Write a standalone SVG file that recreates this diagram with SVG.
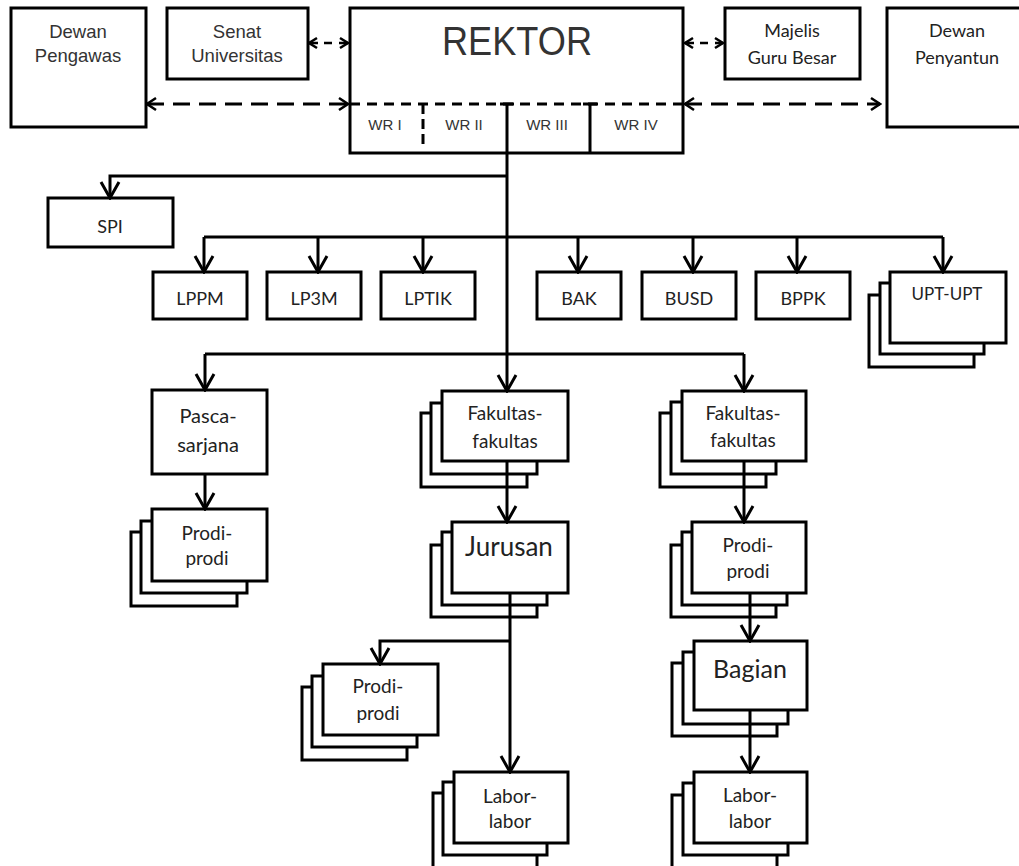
<svg xmlns="http://www.w3.org/2000/svg" width="1019" height="866" viewBox="0 0 1019 866">
<style>
.box{fill:#fff;stroke:#000;stroke-width:3}
.ln{fill:none;stroke:#000;stroke-width:3}
.dl{fill:none;stroke:#000;stroke-width:3;stroke-dasharray:17 9}
.a{font-family:"Liberation Sans",Arial,sans-serif;fill:#333;text-anchor:middle}
.c{font-family:Lato,"Open Sans",sans-serif;fill:#222;text-anchor:middle}
</style>
<defs>
<marker id="ah" viewBox="-2 -11 20 22" refX="16" refY="0" markerWidth="20" markerHeight="22" markerUnits="userSpaceOnUse" orient="auto"><path d="M0,-9 L16,0 L0,9" fill="none" stroke="#000" stroke-width="3"/></marker>
<marker id="as" viewBox="-2 -7 12 14" refX="8" refY="0" markerWidth="12" markerHeight="14" markerUnits="userSpaceOnUse" orient="auto-start-reverse"><path d="M0,-5 L8,0 L0,5" fill="none" stroke="#000" stroke-width="2.5"/></marker>
<marker id="am" viewBox="-2 -8 13 16" refX="9" refY="0" markerWidth="13" markerHeight="16" markerUnits="userSpaceOnUse" orient="auto-start-reverse"><path d="M0,-6 L9,0 L0,6" fill="none" stroke="#000" stroke-width="2.5"/></marker>
</defs>
<rect width="1019" height="866" fill="#fff"/>

<g id="dewan-pengawas"><rect class="box" x="11" y="8" width="135" height="119"/><text class="a" x="78" y="38" font-size="18.5">Dewan</text><text class="a" x="78" y="62" font-size="18.5">Pengawas</text></g>
<g id="senat"><rect class="box" x="167" y="8" width="141" height="71"/><text class="a" x="237" y="38" font-size="18.5">Senat</text><text class="a" x="237" y="62" font-size="18.5">Universitas</text></g>
<g id="rektor"><rect class="box" x="350" y="8" width="333" height="145"/>
<text class="a" x="517" y="55" font-size="40" textLength="150" lengthAdjust="spacingAndGlyphs">REKTOR</text>
<path d="M350,104 H683" fill="none" stroke="#000" stroke-width="3" stroke-dasharray="10 7"/>
<path d="M423,104 V146" fill="none" stroke="#000" stroke-width="3" stroke-dasharray="10 5"/>
<path class="ln" d="M507,104 V153 M590,104 V153 M500,104 H514 M583,104 H597"/>
<text class="a" x="385" y="130" font-size="15">WR I</text>
<text class="a" x="464" y="130" font-size="15">WR II</text>
<text class="a" x="547" y="130" font-size="15">WR III</text>
<text class="a" x="636" y="130" font-size="15">WR IV</text></g>
<g id="majelis"><rect class="box" x="725" y="8" width="135" height="71"/><text class="c" x="792" y="37" font-size="18">Majelis</text><text class="c" x="792" y="64" font-size="18">Guru Besar</text></g>
<g id="dewan-penyantun"><rect class="box" x="887" y="8" width="145" height="119"/><text class="c" x="957" y="37" font-size="18">Dewan</text><text class="c" x="957" y="64" font-size="18">Penyantun</text></g>

<g id="spi"><rect class="box" x="48" y="198" width="125" height="49"/><text class="c" x="110" y="233" font-size="18">SPI</text></g>
<g id="lppm"><rect class="box" x="153" y="272" width="94" height="47"/><text class="c" x="200" y="305" font-size="18">LPPM</text></g>
<g id="lp3m"><rect class="box" x="267" y="272" width="94" height="47"/><text class="c" x="314" y="305" font-size="18">LP3M</text></g>
<g id="lptik"><rect class="box" x="381" y="272" width="94" height="47"/><text class="c" x="428" y="305" font-size="18">LPTIK</text></g>
<g id="bak"><rect class="box" x="537" y="272" width="84" height="47"/><text class="c" x="579" y="305" font-size="18">BAK</text></g>
<g id="busd"><rect class="box" x="642" y="272" width="94" height="47"/><text class="c" x="689" y="305" font-size="18">BUSD</text></g>
<g id="bppk"><rect class="box" x="756" y="272" width="94" height="47"/><text class="c" x="803" y="305" font-size="18">BPPK</text></g>
<g id="upt"><rect class="box" x="869" y="295" width="105" height="72"/><rect class="box" x="880" y="283" width="104" height="71"/><rect class="box" x="890" y="272" width="116" height="71"/><text class="c" x="947" y="300" font-size="17">UPT-UPT</text></g>

<g id="pascasarjana"><rect class="box" x="152" y="390" width="115" height="84"/><text class="c" x="208" y="423" font-size="20">Pasca-</text><text class="c" x="208" y="452" font-size="20">sarjana</text></g>
<g id="prodi-pasca"><rect class="box" x="131" y="532" width="106" height="74"/><rect class="box" x="141" y="521" width="106" height="72"/><rect class="box" x="152" y="509" width="115" height="72"/><text class="c" x="207" y="540" font-size="19">Prodi-</text><text class="c" x="207" y="565" font-size="19">prodi</text></g>

<g id="fakultas-1"><rect class="box" x="421" y="413" width="106" height="74"/><rect class="box" x="431" y="403" width="106" height="71"/><rect class="box" x="442" y="391" width="126" height="70"/><text class="c" x="505" y="420" font-size="19">Fakultas-</text><text class="c" x="505" y="448" font-size="19">fakultas</text></g>
<g id="jurusan"><rect class="box" x="431" y="545" width="106" height="72"/><rect class="box" x="442" y="532" width="105" height="73"/><rect class="box" x="452" y="522" width="116" height="71"/><text class="c" x="509" y="556" font-size="26">Jurusan</text></g>
<g id="prodi-jurusan"><rect class="box" x="302" y="687" width="105" height="73"/><rect class="box" x="312" y="676" width="105" height="71"/><rect class="box" x="323" y="664" width="115" height="71"/><text class="c" x="378" y="693" font-size="19">Prodi-</text><text class="c" x="378" y="720" font-size="19">prodi</text></g>
<g id="labor-1"><rect class="box" x="433" y="793" width="104" height="80"/><rect class="box" x="443" y="782" width="104" height="73"/><rect class="box" x="454" y="772" width="114" height="71"/><text class="c" x="510" y="803" font-size="19">Labor-</text><text class="c" x="510" y="828" font-size="19">labor</text></g>

<g id="fakultas-2"><rect class="box" x="660" y="413" width="106" height="74"/><rect class="box" x="671" y="402" width="105" height="72"/><rect class="box" x="682" y="391" width="124" height="70"/><text class="c" x="743" y="420" font-size="19">Fakultas-</text><text class="c" x="743" y="447" font-size="19">fakultas</text></g>
<g id="prodi-fakultas"><rect class="box" x="671" y="545" width="105" height="72"/><rect class="box" x="682" y="532" width="105" height="73"/><rect class="box" x="692" y="522" width="114" height="71"/><text class="c" x="748" y="552" font-size="19">Prodi-</text><text class="c" x="748" y="578" font-size="19">prodi</text></g>
<g id="bagian"><rect class="box" x="672" y="663" width="105" height="73"/><rect class="box" x="683" y="652" width="105" height="72"/><rect class="box" x="694" y="641" width="113" height="69"/><text class="c" x="750" y="678" font-size="25">Bagian</text></g>
<g id="labor-2"><rect class="box" x="672" y="795" width="105" height="80"/><rect class="box" x="683" y="783" width="105" height="72"/><rect class="box" x="694" y="772" width="113" height="71"/><text class="c" x="750" y="802" font-size="19">Labor-</text><text class="c" x="750" y="828" font-size="19">labor</text></g>

<g id="connectors">
<path class="dl" d="M147,104 H348" marker-start="url(#am)" marker-end="url(#am)"/>
<path class="dl" d="M685,104 H880" marker-start="url(#am)" marker-end="url(#am)"/>
<path d="M309,43 H348" fill="none" stroke="#000" stroke-width="2.5" stroke-dasharray="9 6 8 7 20" marker-start="url(#as)" marker-end="url(#as)"/>
<path d="M685,43 H723" fill="none" stroke="#000" stroke-width="2.5" stroke-dasharray="9 6 8 7 20" marker-start="url(#as)" marker-end="url(#as)"/>
<path class="ln" d="M507,153 V391" marker-end="url(#ah)"/>
<path class="ln" d="M507,176 H110 V198" marker-end="url(#ah)"/>
<path class="ln" d="M204,237 H943"/>
<path class="ln" d="M204,237 V272" marker-end="url(#ah)"/>
<path class="ln" d="M318,237 V272" marker-end="url(#ah)"/>
<path class="ln" d="M423,237 V272" marker-end="url(#ah)"/>
<path class="ln" d="M578,237 V272" marker-end="url(#ah)"/>
<path class="ln" d="M693,237 V272" marker-end="url(#ah)"/>
<path class="ln" d="M797,237 V272" marker-end="url(#ah)"/>
<path class="ln" d="M943,237 V272" marker-end="url(#ah)"/>
<path class="ln" d="M205,354 H744"/>
<path class="ln" d="M205,354 V390" marker-end="url(#ah)"/>
<path class="ln" d="M744,354 V391" marker-end="url(#ah)"/>
<path class="ln" d="M205,474 V509" marker-end="url(#ah)"/>
<path class="ln" d="M507,461 V522" marker-end="url(#ah)"/>
<path class="ln" d="M510,593 V772" marker-end="url(#ah)"/>
<path class="ln" d="M510,641 H380 V664" marker-end="url(#ah)"/>
<path class="ln" d="M744,461 V522" marker-end="url(#ah)"/>
<path class="ln" d="M750,593 V641" marker-end="url(#ah)"/>
<path class="ln" d="M750,710 V772" marker-end="url(#ah)"/>
</g>
</svg>
